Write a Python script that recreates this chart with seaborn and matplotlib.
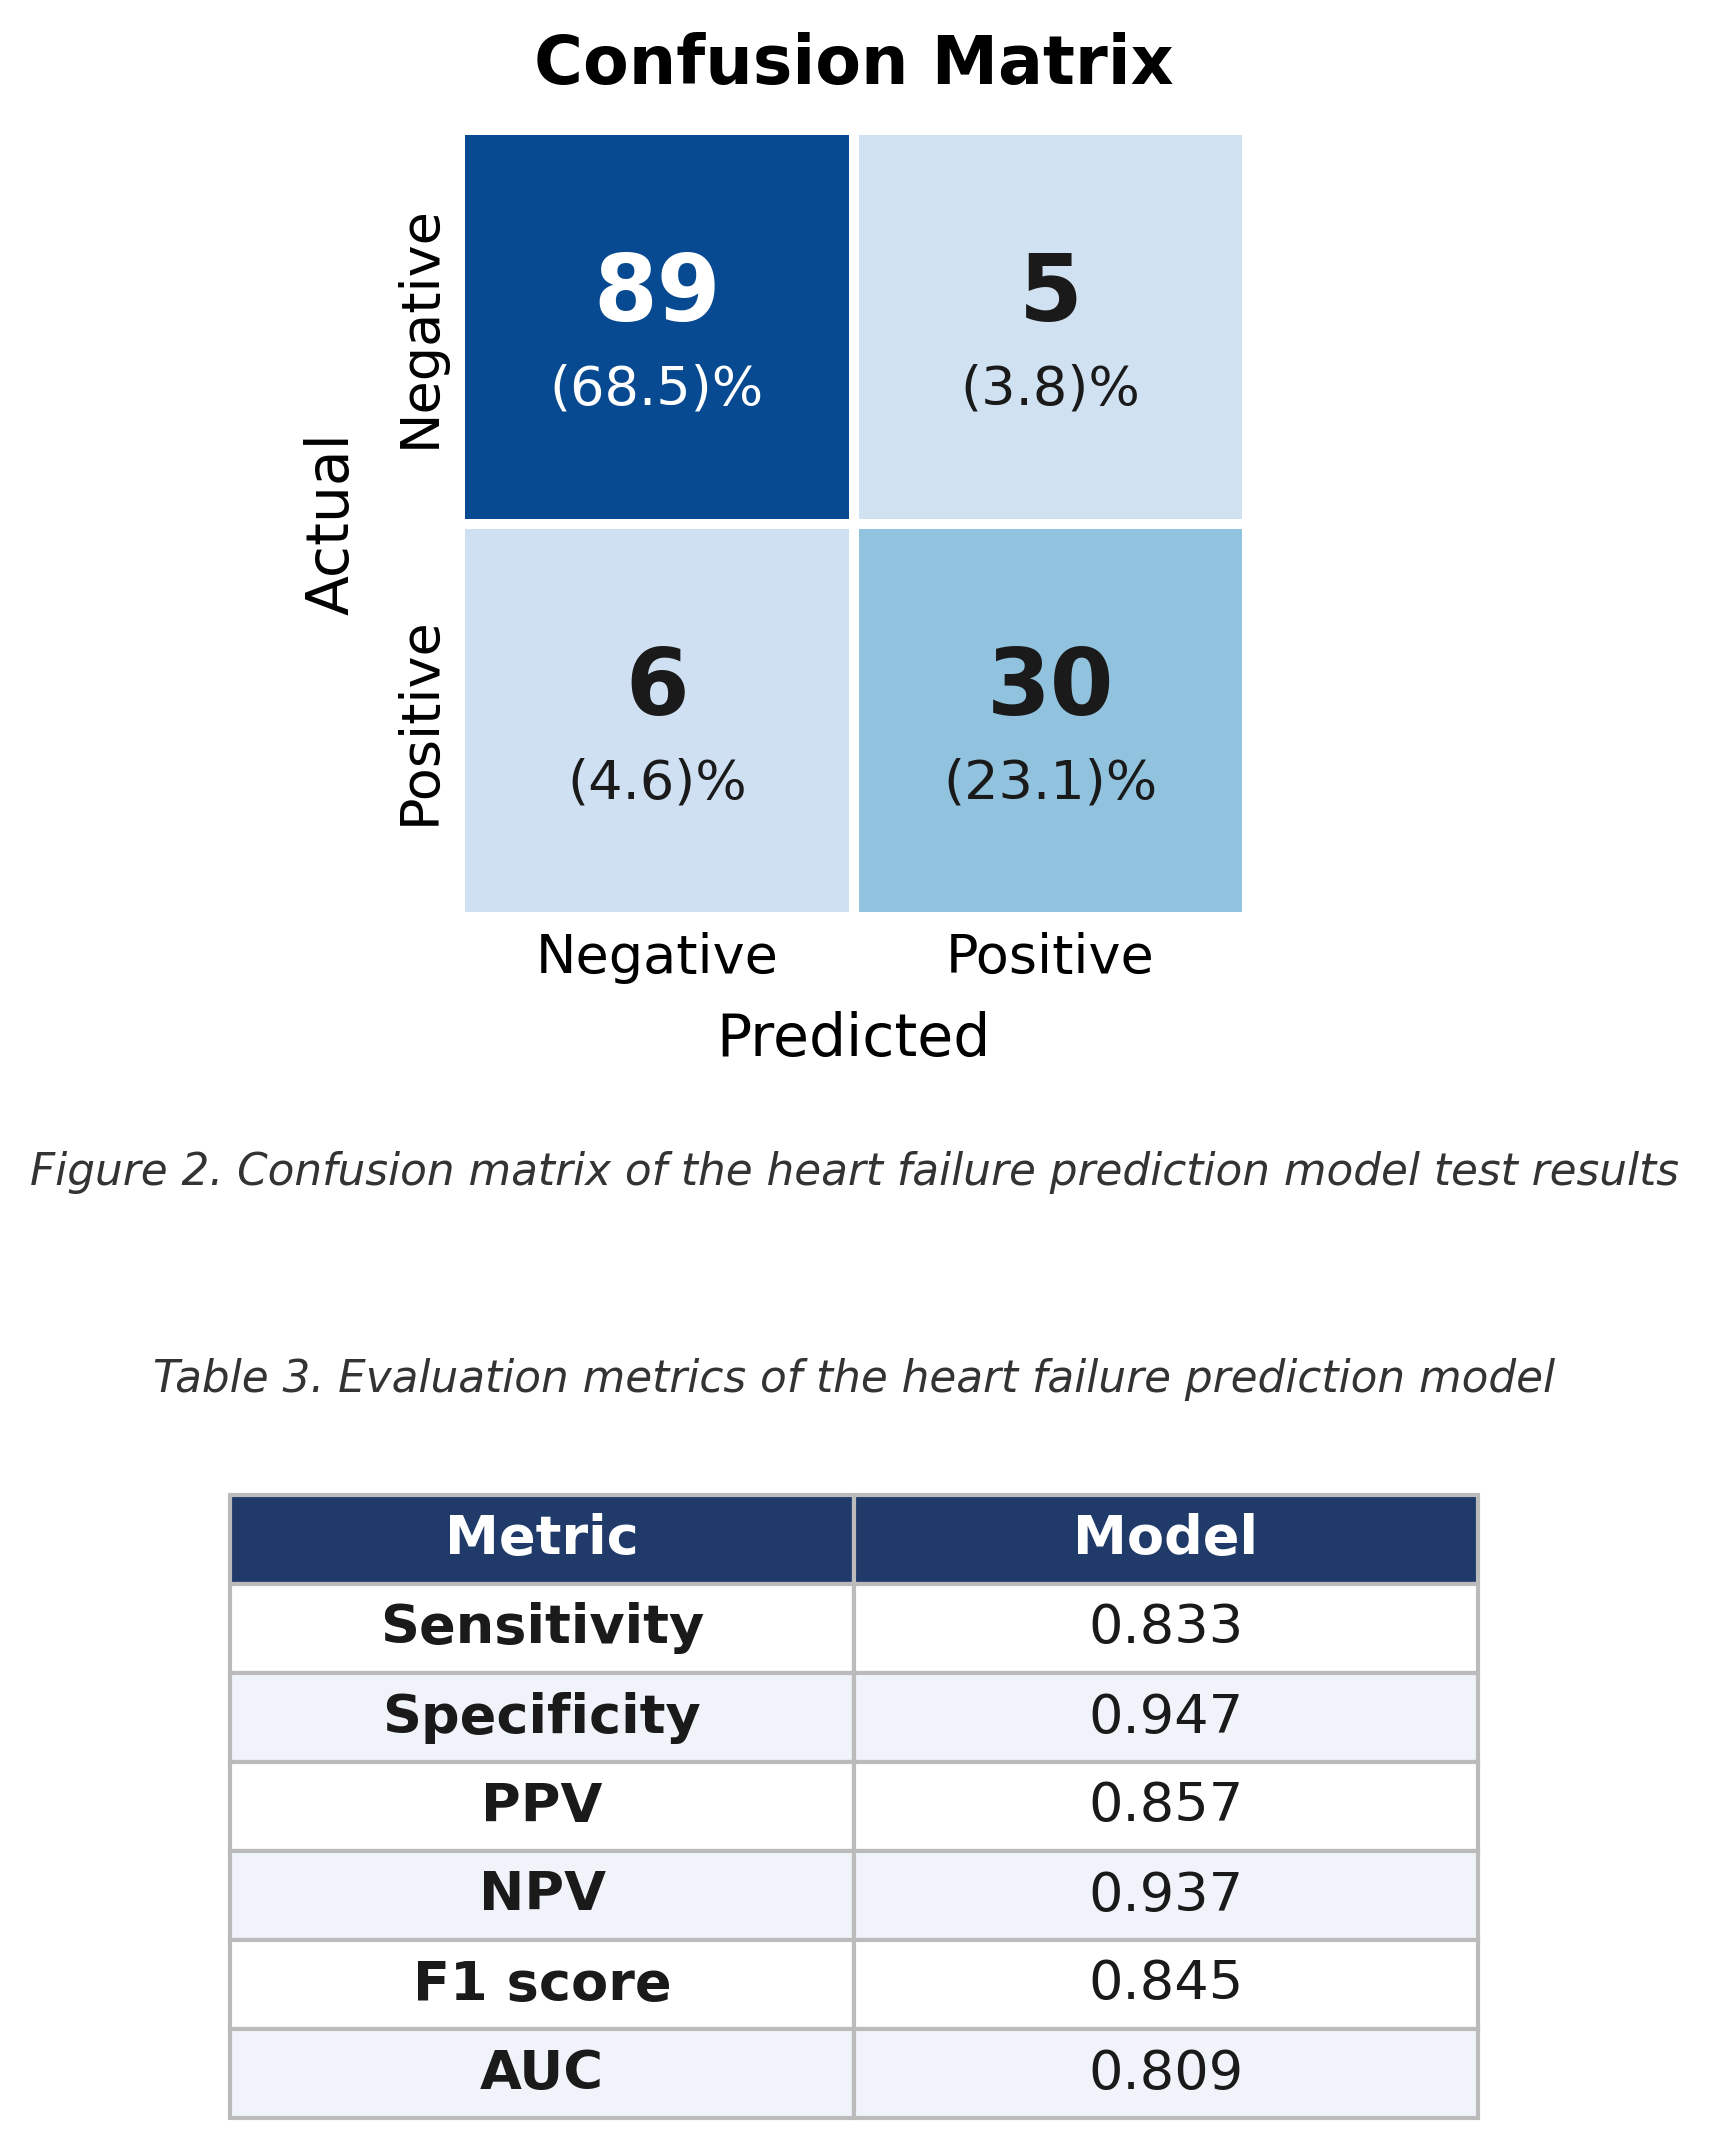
import numpy as np
import matplotlib
matplotlib.use("Agg")
import matplotlib.pyplot as plt
from matplotlib.colors import ListedColormap
import seaborn as sns

# confusion matrix counts (rows = actual, cols = predicted)
labels = ["Negative", "Positive"]
counts = np.array([[89, 5],
                   [6, 30]])
pct = np.array([[68.5, 3.8],
                [4.6, 23.1]])

metric_names = ["Sensitivity", "Specificity", "PPV", "NPV", "F1 score", "AUC"]
metric_values = ["0.833", "0.947", "0.857", "0.937", "0.845", "0.809"]

fig_caption = "Figure 2. Confusion matrix of the heart failure prediction model test results"
table_caption = "Table 3. Evaluation metrics of the heart failure prediction model"

sns.set_style("white")
plt.rcParams['font.family'] = ['DejaVu Sans']
plt.rcParams['text.color'] = 'black'
plt.rcParams['axes.labelcolor'] = 'black'
plt.rcParams['xtick.color'] = 'black'
plt.rcParams['ytick.color'] = 'black'

W, H = 1709, 2148
fig = plt.figure(figsize=(W / 300, H / 300), dpi=300)

# heatmap
ax = fig.add_axes([460 / W, 1 - 917 / H, (1247 - 460) / W, (917 - 130) / H])
cmap = ListedColormap(plt.cm.Blues(np.linspace(0.2, 0.9, 256)))
sns.heatmap(counts, cmap=cmap, cbar=False, linewidths=2, linecolor="white",
            xticklabels=labels, yticklabels=labels, ax=ax)

vmax = counts.max()
for i in range(2):
    for j in range(2):
        c = "white" if counts[i, j] > vmax / 2 else "#1a1a1a"
        ax.text(j + 0.5, i + 0.42, str(counts[i, j]), ha="center", va="center",
                fontsize=22, fontweight="bold", color=c)
        ax.text(j + 0.5, i + 0.66, f"({pct[i, j]})%", ha="center", va="center",
                fontsize=13, color=c)

ax.set_title("Confusion Matrix", fontsize=16, fontweight="bold", pad=11)
ax.set_xlabel("Predicted", fontsize=14, labelpad=6.5)
ax.set_ylabel("Actual", fontsize=14, labelpad=8)
ax.tick_params(axis="both", length=0, labelsize=13)
plt.setp(ax.get_yticklabels(), rotation=90, va="center")
plt.setp(ax.get_xticklabels(), rotation=0)

# captions
fig.text(854 / W, 1 - 1185 / H, fig_caption, ha="center", va="baseline",
         fontsize=10.5, style="italic", color="#333333")
fig.text(854 / W, 1 - 1392 / H, table_caption, ha="center", va="baseline",
         fontsize=10.5, style="italic", color="#333333")

# metrics table
tax = fig.add_axes([230 / W, 1 - 2118 / H, (1478 - 230) / W, (2118 - 1495) / H])
tax.axis("off")
rows = [[n, v] for n, v in zip(metric_names, metric_values)]
tbl = tax.table(cellText=rows, colLabels=["Metric", "Model"], cellLoc="center",
                bbox=[0, 0, 1, 1])
tbl.auto_set_font_size(False)
for (r, c), cell in tbl.get_celld().items():
    cell.set_edgecolor("#bbbbbb")
    cell.set_linewidth(1)
    txt = cell.get_text()
    txt.set_fontsize(13)
    if r == 0:
        cell.set_facecolor("#203a6a")
        txt.set_color("white")
        txt.set_fontweight("bold")
    else:
        cell.set_facecolor("#f0f4fa" if r % 2 == 0 else "white")
        txt.set_color("#1a1a1a")
        if c == 0:
            txt.set_fontweight("bold")

fig.savefig("out.png", dpi=300)
